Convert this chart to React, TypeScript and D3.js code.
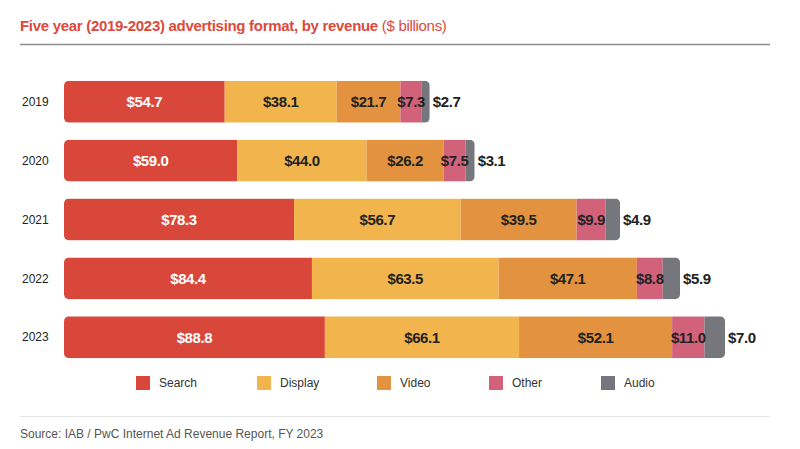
import React from "react";
import * as d3 from "d3";

const years = ["2019", "2020", "2021", "2022", "2023"];
const formats = ["Search", "Display", "Video", "Other", "Audio"];
const search = [54.7, 59.0, 78.3, 84.4, 88.8];
const display = [38.1, 44.0, 56.7, 63.5, 66.1];
const video = [21.7, 26.2, 39.5, 47.1, 52.1];
const other = [7.3, 7.5, 9.9, 8.8, 11.0];
const audio = [2.7, 3.1, 4.9, 5.9, 7.0];
const colors = ["#d8473a", "#f2b54d", "#e3923f", "#d2627a", "#75777c"];

const W = 800;
const H = 449;
const FONT = "'Liberation Sans', Arial, Helvetica, sans-serif";

export default function App() {
  const seriesVals = [search, display, video, other, audio];
  const rows = years.map((y, i) => {
    const r: any = { year: y };
    formats.forEach((f, k) => (r[f] = seriesVals[k][i]));
    return r;
  });
  const stack = d3.stack<any>().keys(formats)(rows);

  const x = d3.scaleLinear().domain([0, 225]).range([64, 725]);
  const y = d3.scaleBand().domain(years).range([72, 367]).paddingInner(0.29).paddingOuter(0.15);

  const totals = rows.map((r) => formats.reduce((s, f) => s + r[f], 0));

  const legendX = [136, 257, 377, 489, 601];

  return (
    <svg width={W} height={H} style={{ position: "absolute", left: 0, top: 0, background: "#fff" }} fontFamily={FONT}>
      <defs>
        {years.map((yr, i) => (
          <clipPath id={`clip-${yr}`} key={yr}>
            <rect x={x(0)} y={y(yr)} width={x(totals[i]) - x(0)} height={y.bandwidth()} rx={5} ry={5} />
          </clipPath>
        ))}
      </defs>
      <text x={20} y={31} fontSize={15} fill="#dc4a3b" fontWeight="bold" letterSpacing={-0.3}>
        Five year (2019-2023) advertising format, by revenue
        <tspan fontWeight="normal"> ($ billions)</tspan>
      </text>
      <line x1={20} x2={770} y1={44.5} y2={44.5} stroke="#8e8e8e" strokeWidth={1.5} />

      {years.map((yr, i) => (
        <g key={yr}>
          <text x={22} y={(y(yr) as number) + y.bandwidth() / 2} dy="0.35em" fontSize={12} fill="#222">
            {yr}
          </text>
          <g clipPath={`url(#clip-${yr})`}>
            {stack.map((s, k) => (
              <rect
                key={formats[k]}
                x={x(s[i][0])}
                y={y(yr)}
                width={x(s[i][1]) - x(s[i][0])}
                height={y.bandwidth()}
                fill={colors[k]}
              />
            ))}
          </g>
          {stack.map((s, k) => {
            const v = seriesVals[k][i];
            const label = `$${v.toFixed(1)}`;
            const isLast = k === formats.length - 1;
            const cx = isLast ? x(s[i][1]) + 3 : (x(s[i][0]) + x(s[i][1])) / 2;
            return (
              <text
                key={formats[k]}
                x={cx}
                y={(y(yr) as number) + y.bandwidth() / 2}
                dy="0.36em"
                textAnchor={isLast ? "start" : "middle"}
                fontSize={15}
                fontWeight="bold"
                letterSpacing={-0.4}
                fill={k === 0 ? "#fff" : "#222"}
              >
                {label}
              </text>
            );
          })}
        </g>
      ))}

      {formats.map((f, k) => (
        <g key={f}>
          <rect x={legendX[k]} y={376} width={14} height={14} fill={colors[k]} />
          <text x={legendX[k] + 23} y={383} dy="0.35em" fontSize={12} fill="#333">
            {f}
          </text>
        </g>
      ))}

      <line x1={20} x2={770} y1={416.5} y2={416.5} stroke="#e6e6e6" strokeWidth={1} />
      <text x={20} y={438} fontSize={12} fill="#555">
        Source: IAB / PwC Internet Ad Revenue Report, FY 2023
      </text>
    </svg>
  );
}
